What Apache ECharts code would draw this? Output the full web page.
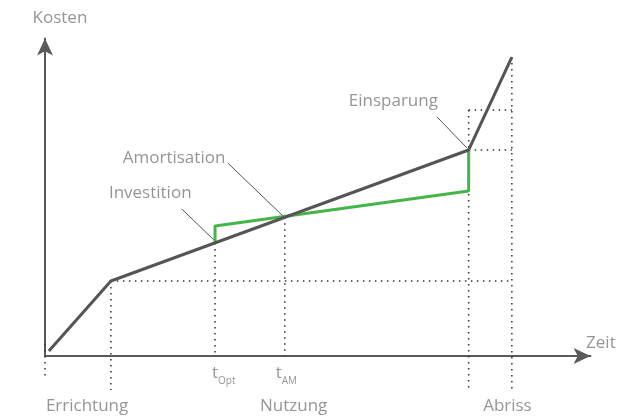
<!DOCTYPE html>
<html>
<head>
<meta charset="utf-8">
<script src="https://cdn.jsdelivr.net/npm/echarts@6/dist/echarts.min.js"></script>
<style>
html,body{margin:0;padding:0;background:#fff;}
#chart{width:638px;height:417px;}
</style>
</head>
<body>
<div id="chart"></div>
<script>
// ---- data (abstract time / cost units) ----
var costLine = [[0.7, 1.5], [11.9, 23.0], [76.5, 63.2], [84.3, 91.7]];
var optimizedLine = [[30.7, 34.7], [30.7, 39.9], [76.5, 50.6], [76.5, 63.2]];
var guideLines = [
  [[0, 3.7], [0, -6.1]],
  [[11.9, 23.0], [11.9, -10.4]],
  [[11.9, 23.0], [84.3, 23.0]],
  [[30.7, 34.7], [30.7, 0]],
  [[43.3, 42.6], [43.3, 0]],
  [[76.5, 75.5], [76.5, -10.4]],
  [[84.3, 91.7], [84.3, -10.4]],
  [[76.5, 75.5], [84.3, 75.5]],
  [[76.5, 63.2], [84.3, 63.2]]
];
var leaderLines = [
  [[24.7, 45.1], [30.5, 35.6]],
  [[33.0, 59.2], [43.0, 42.9]],
  [[70.8, 73.3], [76.2, 63.8]]
];
var phaseLabels = ['Errichtung', 'Nutzung', 'Abriss'];
var phaseAnchors = [[7.6, -15.3], [44.9, -15.3], [83.5, -15.3]];
var noteLabels = ['Investition', 'Amortisation', 'Einsparung'];
var noteAnchors = [[19.0, 50.0], [23.3, 60.7], [62.9, 78.2]];
var timeMarks = ['Opt', 'AM'];
var timeAnchors = [[30.7, -5.2], [42.2, -5.2]];
var axisNames = ['Kosten', 'Zeit'];
var axisNameAnchors = [[2.7, 103.7], [97.7, 4.0]];

var textColor = '#7a7a7a';
var font = '"Open Sans"';

function textSeries(labels, anchors, align, size) {
  return {
    type: 'scatter', symbolSize: 0, silent: true, clip: false, z: 5,
    data: labels.map(function (t, i) {
      return { value: anchors[i], label: { formatter: t } };
    }),
    label: { show: true, position: 'inside', align: align, verticalAlign: 'middle',
      color: textColor, fontFamily: font, fontSize: size }
  };
}

var series = [];
guideLines.forEach(function (seg) {
  series.push({ type: 'line', data: seg, symbol: 'none', clip: false, silent: true, z: 1,
    lineStyle: { color: '#333', width: 1.5, type: [1.5, 4.5], cap: 'butt' } });
});
leaderLines.forEach(function (seg) {
  series.push({ type: 'line', data: seg, symbol: 'none', clip: false, silent: true, z: 2,
    lineStyle: { color: '#555', width: 1 } });
});
series.push({ type: 'line', data: optimizedLine, symbol: 'none', clip: false, z: 3,
  lineStyle: { color: '#44b549', width: 3 } });
series.push({ type: 'line', data: costLine, symbol: 'none', clip: false, z: 4,
  lineStyle: { color: '#555555', width: 3 } });
series.push(textSeries(phaseLabels, phaseAnchors, 'center', 17));
series.push(textSeries(noteLabels, noteAnchors, 'center', 17));
series.push(textSeries(axisNames.slice(0, 1), axisNameAnchors.slice(0, 1), 'center', 17));
series.push(textSeries(axisNames.slice(1), axisNameAnchors.slice(1), 'left', 17));
series.push(textSeries(timeMarks.map(function () { return 't'; }), timeAnchors, 'center', 17));
series.push({
  type: 'scatter', symbolSize: 0, silent: true, clip: false, z: 5,
  data: timeMarks.map(function (t, i) { return { value: timeAnchors[i], label: { formatter: t } }; }),
  label: { show: true, position: 'inside', align: 'left', verticalAlign: 'middle',
    offset: [3, 8], color: textColor, fontFamily: font, fontSize: 10 }
});

var chart = echarts.init(document.getElementById('chart'));
chart.setOption({
  animation: false,
  backgroundColor: '#fff',
  grid: { left: 45, right: 47.5, top: 38.5, bottom: 61 },
  xAxis: {
    type: 'value', min: 0, max: 98.5,
    axisLine: { show: true, onZero: false, symbol: ['none', 'arrow'], symbolSize: [12, 17],
      lineStyle: { color: '#5a5a5a', width: 2 } },
    axisTick: { show: false }, axisLabel: { show: false }, splitLine: { show: false }
  },
  yAxis: {
    type: 'value', min: 0, max: 97.4,
    axisLine: { show: true, onZero: false, symbol: ['none', 'arrow'], symbolSize: [12, 17],
      lineStyle: { color: '#5a5a5a', width: 2 } },
    axisTick: { show: false }, axisLabel: { show: false }, splitLine: { show: false }
  },
  series: series
});
</script>
</body>
</html>
